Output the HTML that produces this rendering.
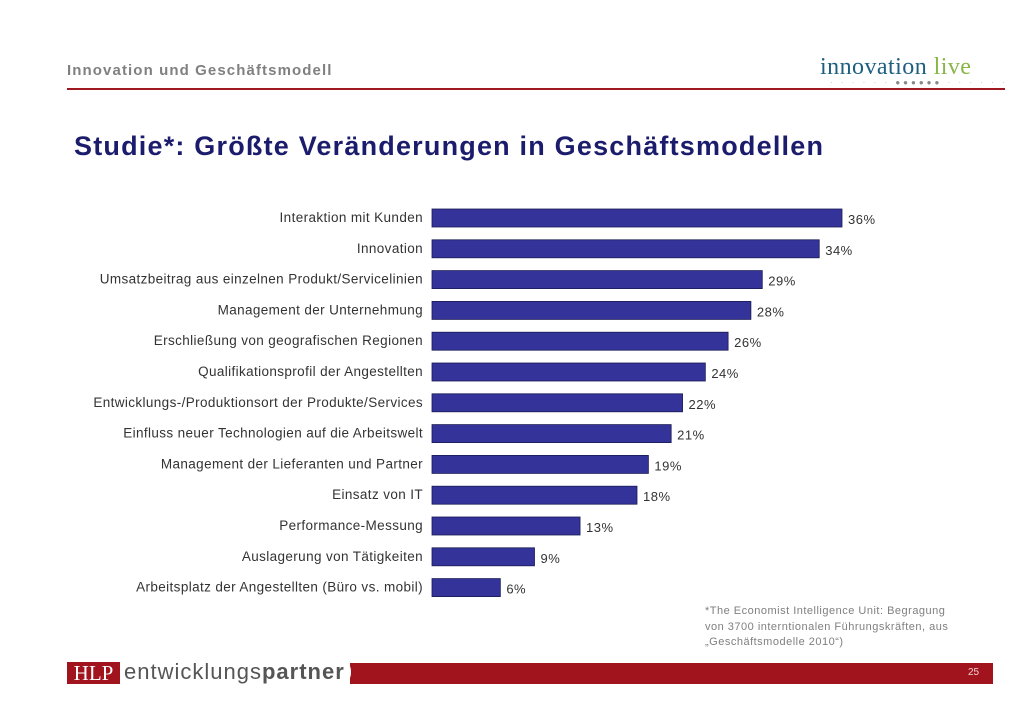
<!DOCTYPE html>
<html><head><meta charset="utf-8"><style>
body{margin:0;width:1030px;height:728px;background:#fff;position:relative;overflow:hidden;font-family:"Liberation Sans",sans-serif}
.abs{position:absolute}
</style></head><body>
<div class="abs" style="left:67px;top:62px;font-size:15px;font-weight:bold;color:#808080;letter-spacing:1.1px">Innovation und Geschäftsmodell</div>
<div class="abs" style="left:820px;top:54px;font-family:'Liberation Serif',serif;font-size:24px;letter-spacing:0.45px"><span style="color:#1d5f80">innovation</span> <span style="color:#8ab547">live</span></div>
<div class="abs" style="left:830px;top:78px;font-size:8px;color:#bbb;letter-spacing:3px">· · · · · · <span style="color:#888">●●●●●●</span> · · · · · ·</div>
<div class="abs" style="left:67px;top:88px;width:938px;height:2px;background:#a01820"></div>
<div class="abs" style="left:74px;top:131px;font-size:27px;font-weight:bold;color:#1c1c6c;letter-spacing:1.2px">Studie*: Größte Veränderungen in Geschäftsmodellen</div>
<svg class="abs" style="left:0;top:0" width="1030" height="728" id="chart"></svg>
<div class="abs" style="left:705px;top:604px;font-size:11px;line-height:15.5px;color:#7f7f7f;letter-spacing:0.5px">*The Economist Intelligence Unit: Begragung<br>von 3700 interntionalen Führungskräften, aus<br>„Geschäftsmodelle 2010“)</div>
<div class="abs" style="left:350px;top:663px;width:643px;height:21px;background:#a1131d"></div>
<div class="abs" style="left:968px;top:667px;font-size:10px;color:#f0d0d0">25</div>
<div class="abs" style="left:67px;top:662px;width:53px;height:22px;background:#a1131d;color:#fff;font-family:'Liberation Serif',serif;font-size:21px;line-height:22px;text-align:center">HLP</div>
<div class="abs" style="left:124px;top:659px;font-size:22px;color:#555;background:#fff;padding-right:6px;border-radius:0 12px 12px 0;letter-spacing:1px">entwicklungs<b>partner</b></div>
<script>
const categories=["Interaktion mit Kunden","Innovation","Umsatzbeitrag aus einzelnen Produkt/Servicelinien","Management der Unternehmung","Erschließung von geografischen Regionen","Qualifikationsprofil der Angestellten","Entwicklungs-/Produktionsort der Produkte/Services","Einfluss neuer Technologien auf die Arbeitswelt","Management der Lieferanten und Partner","Einsatz von IT","Performance-Messung","Auslagerung von Tätigkeiten","Arbeitsplatz der Angestellten (Büro vs. mobil)"];
const values=[36,34,29,28,26,24,22,21,19,18,13,9,6];
const svg=document.getElementById('chart');
const NS='http://www.w3.org/2000/svg';
const x0=432,pxPer=410/36,y0=209,step=30.8,bh=18;
const xs=v=>x0+v*pxPer;
const ys=i=>y0+i*step;
categories.forEach((c,i)=>{
 const r=document.createElementNS(NS,'rect');
 r.setAttribute('x',x0);r.setAttribute('y',ys(i));r.setAttribute('width',xs(values[i])-x0);r.setAttribute('height',bh);
 r.setAttribute('fill','#333399');r.setAttribute('stroke','#1a1a55');r.setAttribute('stroke-width','0.8');
 
 
 svg.appendChild(r);
 const t=document.createElementNS(NS,'text');
 t.setAttribute('x',423);t.setAttribute('y',ys(i)+13);t.setAttribute('text-anchor','end');
 t.setAttribute('font-size','13.5');t.setAttribute('letter-spacing','0.38');t.setAttribute('fill','#333');t.textContent=c;
 
 
 svg.appendChild(t);
 const v=document.createElementNS(NS,'text');
 v.setAttribute('x',xs(values[i])+6);v.setAttribute('y',ys(i)+15);
 v.setAttribute('font-size','13');v.setAttribute('letter-spacing','0.5');v.setAttribute('fill','#333');v.textContent=values[i]+'%';
 
 
 svg.appendChild(v);
});
</script>
</body></html>
